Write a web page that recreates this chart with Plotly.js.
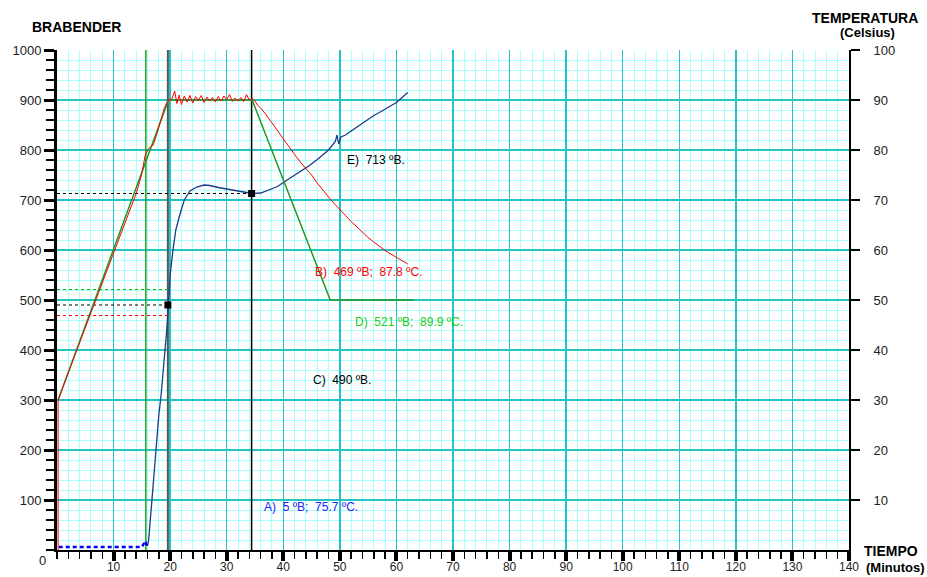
<!DOCTYPE html>
<html><head><meta charset="utf-8">
<script src="https://cdn.plot.ly/plotly-3.0.1.min.js"></script>
<style>body{margin:0;background:#fff}#c{width:927px;height:577px}</style>
</head><body><div id="c"></div>
<script>
// ---- DATA ----
// Temperature (°C) measured, red
const tempTime = [0.2,0.2,2,4,6,8,10,12,14,15,15.6,16.2,17,17.6,18.3,19,19.7,20.3,20.8,21.2,21.6,22,22.5,23,23.5,24,24.5,25,25.5,26,26.5,27,27.5,28,28.5,29,29.5,30,30.5,31,31.5,32,32.5,33,33.5,34,34.5,35,35.5,36,37,38,39,40,41,42,43,44,45,46,47,48,49,50,51,52,53,54,55,56,57,58,59,60,61,62];
const tempVal  = [0,30,35.5,41.5,47.6,53.5,59.5,65.5,71.3,75.3,79,80.3,81,83,86,88.5,90,90.2,91.8,89.3,91,89.1,90.8,89.6,90.9,89.4,90.7,89.9,90.9,89.5,90.6,89.8,90.5,89.6,90.7,89.8,90.8,90.1,91.1,89.7,90.4,89.8,90.5,89.7,91.1,90,90.3,89.8,88.9,88.4,87,85.4,83.7,82.2,80.6,79.1,77.6,76.3,75,73.4,71.9,70.6,69.3,68,66.9,65.7,64.6,63.6,62.5,61.6,60.7,59.9,59.2,58.5,57.8,57.2];
// Programmed temperature profile, green
const profTime = [0.2,19.7,34.5,48.3,63];
const profVal  = [30,90,90,50,50];
// Viscosity (BU), blue
const viscTime = [16.0,16.2,17,17.5,18,18.4,19,19.4,19.7,20,20.5,21,21.7,22.5,23.5,24.7,26,27,28.5,30,31.5,33,34.5,36,37.5,39,40,41.5,43,44.5,46,47,48,48.7,49.2,49.5,49.8,50.2,51,52,53,54,55,56,57,58,59,60,61,62];
const viscVal  = [8,20,130,210,270,310,380,440,490,550,600,640,670,700,718,726,730,729,725,722,718,715,713,714,720,727,735,746,757,768,781,790,800,810,817,830,812,826,830,838,846,854,862,869,875,882,888,895,905,915];
const viscLowTime = [0.3,15,15.3,15.6,15.9];
const viscLowVal  = [6,6,12,18,8];
// Event vertical lines (min)
const eventTimes = [15.7, 19.6, 34.4];
// Read-off points
const pointC = {t:19.6, bu:490};
const pointE = {t:34.4, bu:713};
const levelD = 521, levelB = 469;
// Labels
const labels = [
  {t:50.9, bu:780, text:"E)  713 ºB.", color:"#000000"},
  {t:45.3, bu:556, text:"B)  469 ºB;  87.8 ºC.", color:"#ff0000"},
  {t:52.3, bu:456, text:"D)  521 ºB;  89.9 ºC.", color:"#22cc22"},
  {t:44.9, bu:340, text:"C)  490 ºB.", color:"#000000"},
  {t:36.2, bu:86,  text:"A)  5 ºB;  75.7 ºC.", color:"#2222ff"}
];
const xTicks = [10,20,30,40,50,60,70,80,90,100,110,120,130,140];
const yTicks = [100,200,300,400,500,600,700,800,900,1000];
const y2Ticks = [10,20,30,40,50,60,70,80,90,100];

// ---- TRACES ----
const traces = [];
const vcols = ["#22a022","#555555","#000000"];
const vw = [1.5,2,1.5];
eventTimes.forEach((t,i)=>traces.push({x:[t,t],y:[0,1000],mode:'lines',line:{color:vcols[i],width:vw[i]},hoverinfo:'skip'}));
traces.push({x:profTime,y:profVal,yaxis:'y2',mode:'lines',line:{color:'#229922',width:1.5}});
traces.push({x:tempTime,y:tempVal,yaxis:'y2',mode:'lines',line:{color:'#ff0000',width:1}});
traces.push({x:viscTime,y:viscVal,mode:'lines',line:{color:'#1c3a88',width:1.3}});
traces.push({x:viscLowTime,y:viscLowVal,mode:'lines',line:{color:'#0000ff',width:2.5,dash:'4px,3px'}});
// dashed read-off lines
traces.push({x:[0,pointE.t],y:[pointE.bu,pointE.bu],mode:'lines',line:{color:'#000',width:1,dash:'3px,3px'}});
traces.push({x:[0,pointC.t],y:[levelD,levelD],mode:'lines',line:{color:'#00bb00',width:1,dash:'3px,3px'}});
traces.push({x:[0,pointC.t],y:[pointC.bu,pointC.bu],mode:'lines',line:{color:'#000',width:1,dash:'3px,3px'}});
traces.push({x:[0,pointC.t],y:[levelB,levelB],mode:'lines',line:{color:'#ff0000',width:1,dash:'3px,3px'}});
traces.push({x:[pointC.t,pointE.t],y:[pointC.bu,pointE.bu],mode:'markers',marker:{symbol:'square',size:7,color:'#000'}});

const P = (px)=> (px-57)/792, Q = (py)=> (550-py)/500;
const tf = {family:'"Liberation Sans", Arial, sans-serif', size:14, color:'#000'};
const ann = labels.map(l=>({x:l.t,y:l.bu,xref:'x',yref:'y',text:l.text,showarrow:false,xanchor:'left',yanchor:'middle',font:{family:'"Liberation Sans", Arial, sans-serif',size:12,color:l.color}}));
ann.push({x:P(30),y:Q(27),xref:'paper',yref:'paper',text:'<b>BRABENDER</b>',showarrow:false,xanchor:'left',yanchor:'middle',font:tf});
ann.push({x:P(865),y:Q(18),xref:'paper',yref:'paper',text:'<b>TEMPERATURA</b>',showarrow:false,xanchor:'center',yanchor:'middle',font:tf});
ann.push({x:P(867),y:Q(33),xref:'paper',yref:'paper',text:'<b>(Celsius)</b>',showarrow:false,xanchor:'center',yanchor:'middle',font:{...tf,size:13}});
ann.push({x:P(891),y:Q(551),xref:'paper',yref:'paper',text:'<b>TIEMPO</b>',showarrow:false,xanchor:'center',yanchor:'middle',font:tf});
ann.push({x:P(895),y:Q(567),xref:'paper',yref:'paper',text:'<b>(Minutos)</b>',showarrow:false,xanchor:'center',yanchor:'middle',font:{...tf,size:13}});
ann.push({x:P(42),y:Q(560),xref:'paper',yref:'paper',text:'0',showarrow:false,xanchor:'center',yanchor:'middle',font:{family:'"Liberation Sans", Arial, sans-serif',size:13,color:'#222'}});

const tickFont = {family:'"Liberation Sans", Arial, sans-serif',size:13,color:'#222'};
const layout = {
  width:927,height:577,margin:{l:57,r:78,t:50,b:27},
  paper_bgcolor:'#fff',plot_bgcolor:'#fff',showlegend:false,
  xaxis:{range:[0,140],tickvals:xTicks,ticktext:xTicks.map(String),showgrid:true,gridcolor:'#22c4c4',gridwidth:1.5,
    zeroline:false,showline:true,linecolor:'#000',linewidth:2,ticks:'outside',ticklen:9,tickwidth:4,tickcolor:'#000',
    tickfont:{...tickFont,size:12},ticklabelstandoff:-4,
    minor:{dtick:2,tick0:0,showgrid:true,gridcolor:'#aaffff',gridwidth:1,ticks:'outside',ticklen:7,tickwidth:1.5,tickcolor:'#000'}},
  yaxis:{range:[0,1000],tickvals:yTicks,showgrid:true,gridcolor:'#22c4c4',gridwidth:1.5,
    zeroline:false,showline:true,linecolor:'#000',linewidth:3,ticks:'outside',ticklen:10,tickwidth:3,tickcolor:'#000',
    tickfont:tickFont,
    minor:{dtick:20,tick0:0,showgrid:true,gridcolor:'#aaffff',gridwidth:1,ticks:'outside',ticklen:8,tickwidth:2,tickcolor:'#000'}},
  yaxis2:{range:[0,100],overlaying:'y',side:'right',tickvals:y2Ticks,ticktext:y2Ticks.map(v=>'\u00a0\u00a0\u00a0'+v),showgrid:false,zeroline:false,showline:true,
    linecolor:'#000',linewidth:2,ticks:'outside',ticklen:9,tickwidth:2,tickcolor:'#000',tickfont:tickFont},
  annotations:ann
};
Plotly.newPlot('c',traces,layout,{staticPlot:true,displayModeBar:false});
</script></body></html>
